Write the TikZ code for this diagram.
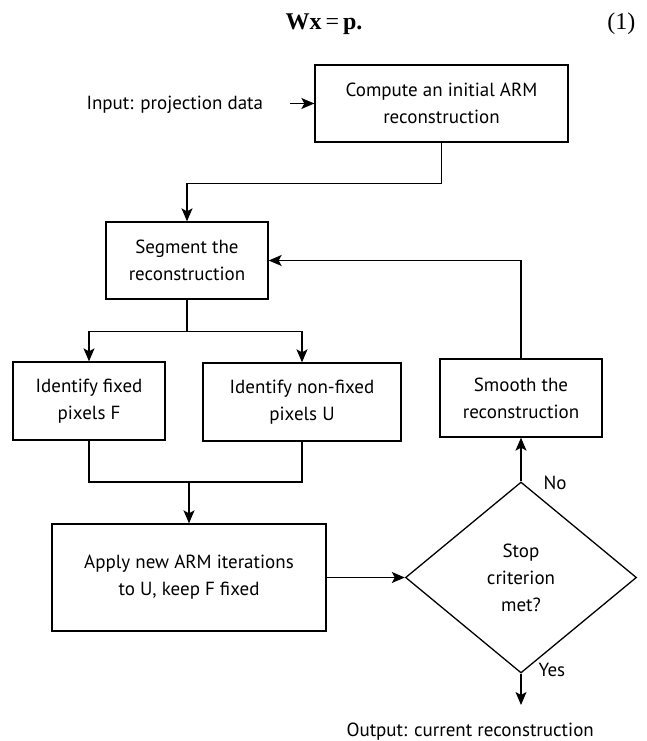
\documentclass[tikz,border=0pt]{standalone}
\usepackage{fontspec}
\setmainfont{PT Sans}
\newfontfamily\eqfont{Liberation Serif}
\usetikzlibrary{arrows.meta,shapes.geometric}

\tikzset{
  box/.style = {draw, line width = 1.3pt, rectangle, align = center, inner sep = 0pt},
  flow/.style = {line width = 1.3pt, -{Stealth[length = 13pt, width = 11pt, inset = 3pt]}},
  plain/.style = {line width = 1.3pt},
}

\begin{document}
\begin{tikzpicture}[x = 1pt, y = -1pt, font = \fontsize{19}{27}\selectfont]
\useasboundingbox (0,0) rectangle (647,741);
\def\lx{189}
\def\rx{521}
\def\ay{577.5}

\node[anchor = base] (eq) at (324,30) {\eqfont\fontsize{24}{28}\selectfont\bfseries Wx\,\mdseries=\,\bfseries p.};
\node[anchor = base east] (eqnum) at (639,30) {\eqfont\fontsize{24}{28}\selectfont(1)};

\node[anchor = base west] (input) at (83,110) {Input: projection data};
\node[box, minimum width = 253pt, minimum height = 77pt] (init) at (441.5,103.5) {Compute an initial ARM\\reconstruction};
\node[box, minimum width = 162pt, minimum height = 77pt] (seg) at (187,260.5) {Segment the\\reconstruction};
\node[box, minimum width = 152pt, minimum height = 78pt] (fixed) at (89,401) {Identify fixed\\pixels F};
\node[box, minimum width = 198pt, minimum height = 78pt] (nonfixed) at (302,402) {Identify non-fixed\\pixels U};
\node[box, minimum width = 162pt, minimum height = 78pt] (smooth) at (\rx,398) {Smooth the\\reconstruction};
\node[box, minimum width = 274pt, minimum height = 107pt] (apply) at (\lx,\ay) {Apply new ARM iterations\\to U, keep F fixed};
\node[draw, diamond, line width = 1.3pt, minimum width = 231pt, minimum height = 191pt, inner sep = 0pt, align = center] (stop) at (\rx,\ay) {Stop\\criterion\\met?};
\node[anchor = base west] (output) at (343,736) {Output: current reconstruction};
\node[anchor = west] (no) at (540,483) {No};
\node[anchor = west] (yes) at (535,670) {Yes};

\coordinate (inarr) at (290,103.5);
\coordinate (join) at (\lx,482);
\coordinate (outarr) at (\rx,705);

\draw[flow] (inarr) -- (init.west);
\draw[flow] (init.south) -- ++(0,41) -| (seg.north);
\draw[flow] (seg.south) -- ++(0,32) -| (fixed.north);
\draw[flow] (seg.south) -- ++(0,32) -| (nonfixed.north);
\draw[plain] (fixed.south) |- (join) -| (nonfixed.south);
\draw[flow] (join) -- (apply.north);
\draw[flow] (apply.east) -- (stop.west);
\draw[flow] (stop.north) -- (smooth.south);
\draw[flow] (smooth.north) |- (seg.east);
\draw[flow] (stop.south) -- (outarr);
\end{tikzpicture}
\end{document}
